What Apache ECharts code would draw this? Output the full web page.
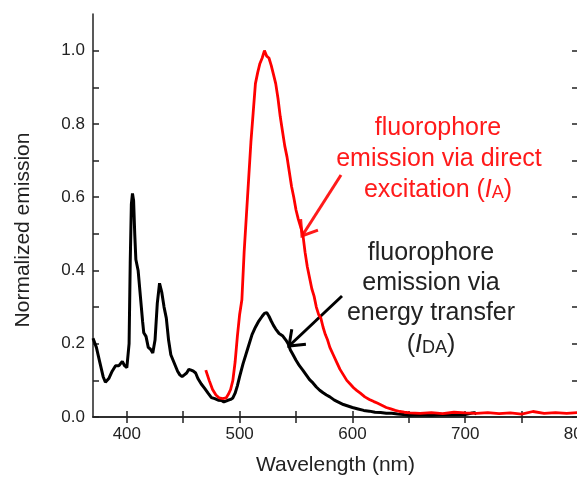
<!DOCTYPE html>
<html>
<head>
<meta charset="utf-8">
<script src="https://cdn.jsdelivr.net/npm/echarts@6/dist/echarts.min.js"></script>
<style>
  html, body { margin: 0; padding: 0; background: #fff; }
  #chart { width: 577px; height: 477px; }
</style>
</head>
<body>
<div id="chart"></div>
<script>
// emission via energy transfer (I_DA), black
var daWavelength = [370, 373, 376, 379, 381, 384, 387, 390, 393, 396, 398, 400, 402, 403, 404, 405, 406, 407, 408, 410,
    412, 414, 415, 417, 419, 421, 423, 425, 427, 429, 431, 433, 435, 437, 439, 441, 443, 445, 447, 449,
    451, 453, 455, 457, 459, 461, 463, 466, 469, 472, 475, 478, 481, 484, 486, 489, 492, 494, 496, 498,
    500, 503, 507, 511, 514, 517, 520, 522, 524, 526, 528, 530, 532, 535, 538, 541, 543, 545, 547, 550,
    553, 556, 559, 562, 565, 568, 571, 574, 577, 580, 584, 588, 592, 596, 600, 605, 610, 615, 620, 625,
    630, 635, 640, 645, 650, 660, 670, 680, 690, 700, 705, 708, 710];
var daEmission = [0.215, 0.19, 0.15, 0.11, 0.095, 0.105, 0.125, 0.14, 0.14, 0.152, 0.14, 0.135, 0.2, 0.42, 0.58, 0.61, 0.59, 0.5, 0.43, 0.40,
    0.33, 0.26, 0.23, 0.22, 0.19, 0.185, 0.175, 0.21, 0.31, 0.365, 0.34, 0.30, 0.27, 0.21, 0.17, 0.155, 0.14, 0.125, 0.115, 0.11,
    0.115, 0.12, 0.13, 0.128, 0.125, 0.12, 0.105, 0.09, 0.078, 0.065, 0.053, 0.05, 0.046, 0.045, 0.041, 0.045, 0.048, 0.052, 0.065, 0.085,
    0.11, 0.145, 0.185, 0.225, 0.245, 0.262, 0.275, 0.283, 0.285, 0.275, 0.262, 0.25, 0.24, 0.228, 0.222, 0.21, 0.2, 0.183, 0.172, 0.155,
    0.14, 0.128, 0.115, 0.102, 0.093, 0.082, 0.073, 0.066, 0.06, 0.055, 0.046, 0.04, 0.034, 0.03, 0.026, 0.022, 0.018, 0.016, 0.013, 0.012,
    0.01, 0.01, 0.008, 0.007, 0.005, 0.006, 0.005, 0.007, 0.006, 0.007, 0.01, 0.012, 0.008];

// emission via direct excitation (I_A), red
var aWavelength = [470, 473, 476, 479, 482, 485, 488, 490, 492, 494, 496, 498, 500, 502, 504, 506, 508, 510, 512, 514,
    516, 518, 520, 522, 524, 526, 528, 530, 532, 534, 536, 538, 540, 542, 544, 546, 548, 550, 552, 554,
    556, 558, 560, 562, 564, 566, 568, 570, 572, 574, 576, 578, 580, 583, 586, 589, 592, 595, 598, 601,
    604, 607, 611, 615, 619, 622, 626, 630, 634, 638, 642, 646, 651, 660, 670, 680, 690, 700, 710, 720,
    730, 740, 750, 760, 770, 780, 790, 800];
var aEmission = [0.128, 0.1, 0.075, 0.06, 0.052, 0.05, 0.052, 0.062, 0.075, 0.1, 0.15, 0.22, 0.28, 0.32, 0.45, 0.55, 0.65, 0.75, 0.83, 0.91,
    0.94, 0.965, 0.98, 1.0, 0.985, 0.98, 0.96, 0.935, 0.91, 0.87, 0.82, 0.78, 0.74, 0.71, 0.67, 0.63, 0.6, 0.565, 0.54, 0.52,
    0.5, 0.45, 0.41, 0.38, 0.35, 0.33, 0.3, 0.28, 0.27, 0.245, 0.225, 0.21, 0.19, 0.17, 0.15, 0.13, 0.115, 0.1, 0.09, 0.08,
    0.072, 0.065, 0.055, 0.048, 0.042, 0.038, 0.032, 0.026, 0.022, 0.018, 0.015, 0.013, 0.011, 0.01, 0.012, 0.009, 0.013, 0.011, 0.01, 0.012,
    0.009, 0.011, 0.008, 0.015, 0.01, 0.012, 0.01, 0.012];

var xTicks = [400, 450, 500, 550, 600, 650, 700, 750, 800];
var xLabels = [400, 500, 600, 700, 800];
var yTicks = [0, 0.1, 0.2, 0.3, 0.4, 0.5, 0.6, 0.7, 0.8, 0.9, 1.0];
var yLabels = [0, 0.2, 0.4, 0.6, 0.8, 1.0];

var font = '"Liberation Sans", Arial, sans-serif';
var axisColor = '#222';

function zip(xs, ys) {
    return xs.map(function (x, i) { return [x, ys[i]]; });
}

// arrow drawn as a shaft plus an open V head
function arrow(x1, y1, x2, y2, color) {
    var ang = Math.atan2(y1 - y2, x1 - x2);
    var len = 17, spread = 0.65;
    return {
        type: 'group',
        children: [{
            type: 'line',
            shape: { x1: x1, y1: y1, x2: x2, y2: y2 },
            style: { stroke: color, lineWidth: 3 }
        }, {
            type: 'polyline',
            shape: {
                points: [
                    [x2 + len * Math.cos(ang + spread), y2 + len * Math.sin(ang + spread)],
                    [x2, y2],
                    [x2 + len * Math.cos(ang - spread), y2 + len * Math.sin(ang - spread)]
                ]
            },
            style: { stroke: color, lineWidth: 3, fill: null }
        }]
    };
}

function label(text, x, y, color, rich) {
    return {
        type: 'text',
        x: x,
        y: y,
        style: {
            text: text,
            fill: color,
            font: '25px ' + font,
            align: 'center',
            verticalAlign: 'middle',
            rich: rich
        }
    };
}

var redRich = {
    i: { fill: '#ff1a1a', fontSize: 25, fontStyle: 'italic', fontFamily: font },
    s: { fill: '#ff1a1a', fontSize: 18, fontFamily: font, verticalAlign: 'bottom', padding: [6, 0, 0, 0] }
};
var blackRich = {
    i: { fill: '#222', fontSize: 25, fontStyle: 'italic', fontFamily: font },
    s: { fill: '#222', fontSize: 18, fontFamily: font, verticalAlign: 'bottom', padding: [6, 0, 0, 0] }
};

var chart = echarts.init(document.getElementById('chart'));

var option = {
    animation: false,
    backgroundColor: '#fff',
    grid: { left: 93, right: -1, top: 14, bottom: 60, outerBoundsMode: 'none' },
    xAxis: [{
        type: 'value',
        min: 370,
        max: 800,
        position: 'bottom',
        axisLine: { lineStyle: { color: axisColor, width: 1.5 } },
        axisTick: { inside: true, length: 6, customValues: xTicks, lineStyle: { color: axisColor, width: 1.5 } },
        axisLabel: { customValues: xLabels, fontSize: 17, color: axisColor, fontFamily: font, margin: 9 },
        splitLine: { show: false },
        name: 'Wavelength (nm)',
        nameLocation: 'middle',
        nameGap: 38,
        nameTextStyle: { fontSize: 21, color: axisColor, fontFamily: font }
    }, {
        type: 'value',
        min: 370,
        max: 800,
        position: 'top',
        axisLine: { lineStyle: { color: axisColor, width: 1.5 } },
        axisTick: { inside: true, length: 6, customValues: xTicks, lineStyle: { color: axisColor, width: 1.5 } },
        axisLabel: { show: false },
        splitLine: { show: false }
    }],
    yAxis: [{
        type: 'value',
        min: 0,
        max: 1.1,
        position: 'left',
        axisLine: { show: true, lineStyle: { color: axisColor, width: 1.5 } },
        axisTick: { show: true, inside: true, length: 6, customValues: yTicks, lineStyle: { color: axisColor, width: 1.5 } },
        axisLabel: {
            customValues: yLabels, fontSize: 17, color: axisColor, fontFamily: font, margin: 8,
            formatter: function (v) { return v.toFixed(1); }
        },
        splitLine: { show: false }
    }, {
        type: 'value',
        min: 0,
        max: 1.1,
        position: 'right',
        axisLine: { show: true, lineStyle: { color: axisColor, width: 1.5 } },
        axisTick: { show: true, inside: true, length: 6, customValues: yTicks, lineStyle: { color: axisColor, width: 1.5 } },
        axisLabel: { show: false },
        splitLine: { show: false }
    }],
    series: [{
        name: 'I_DA',
        type: 'line',
        showSymbol: false,
        data: zip(daWavelength, daEmission),
        lineStyle: { color: '#000', width: 3 },
        itemStyle: { color: '#000' }
    }, {
        name: 'I_A',
        type: 'line',
        showSymbol: false,
        data: zip(aWavelength, aEmission),
        lineStyle: { color: '#ff0000', width: 2.8 },
        itemStyle: { color: '#ff0000' }
    }],
    graphic: [
        {
            type: 'text',
            x: 23,
            y: 230,
            rotation: Math.PI / 2,
            style: {
                text: 'Normalized emission',
                fill: axisColor,
                font: '21px ' + font,
                align: 'center',
                verticalAlign: 'middle'
            }
        },
        label('fluorophore', 438, 128, '#ff1a1a'),
        label('emission via direct', 439, 159, '#ff1a1a'),
        label('excitation ({i|I}{s|A})', 438, 190, '#ff1a1a', redRich),
        arrow(341, 175, 302, 236, '#ff1a1a'),
        label('fluorophore', 431, 253, '#222'),
        label('emission via', 431, 283, '#222'),
        label('energy transfer', 431, 313, '#222'),
        label('({i|I}{s|DA})', 431, 345, '#222', blackRich),
        arrow(342, 296, 289, 346, '#000')
    ]
};

chart.setOption(option);
</script>
</body>
</html>
